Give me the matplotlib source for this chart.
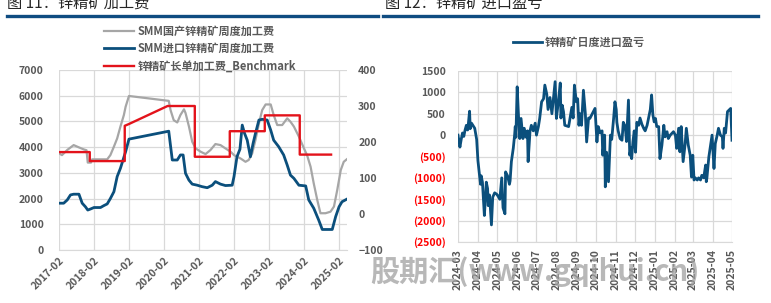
import matplotlib
matplotlib.use('Agg')
import matplotlib.pyplot as plt
import matplotlib.dates as mdates
from matplotlib.lines import Line2D
from matplotlib.ticker import FuncFormatter, MultipleLocator
import pandas as pd

plt.rcParams['font.family'] = ['Noto Sans CJK SC', 'DejaVu Sans']

# ---------------- data: left chart (zinc concentrate TC) ----------------
domestic_dates = [
    '2017-02-01', '2017-03-04', '2017-04-28', '2017-07-04', '2017-08-28', '2017-10-19',
    '2017-11-15', '2017-11-28', '2018-01-01', '2018-01-13', '2018-06-19', '2018-07-22',
    '2018-08-28', '2018-10-01', '2018-11-04', '2018-12-10', '2018-12-28', '2019-02-01',
    '2020-03-22', '2020-04-10', '2020-05-13', '2020-06-19', '2020-07-22', '2020-08-28',
    '2020-09-13', '2020-10-19', '2020-11-22', '2020-12-28', '2021-02-19', '2021-04-10',
    '2021-06-01', '2021-07-22', '2021-09-13', '2021-11-04', '2021-12-28', '2022-02-01',
    '2022-04-10', '2022-06-01', '2022-07-04', '2022-08-10', '2022-09-13', '2022-10-19',
    '2022-11-22', '2022-12-28', '2023-02-19', '2023-03-22', '2023-04-28', '2023-06-19',
    '2023-08-10', '2023-09-13', '2023-10-19', '2023-12-10', '2024-02-01', '2024-03-04',
    '2024-04-10', '2024-05-13', '2024-06-19', '2024-07-22', '2024-09-13', '2024-11-04',
    '2024-12-10', '2025-01-13', '2025-02-19', '2025-03-22', '2025-04-22']
domestic_tc = [
    3760, 3690, 3890, 4080, 3990, 3910,
    3880, 3400, 3400, 3525, 3525, 3690,
    4020, 4340, 4800, 5250, 5570, 5990,
    5800, 5440, 5050, 4960, 5250, 5470,
    5330, 4800, 4210, 3950, 3820, 3730,
    3890, 4120, 4080, 3950, 3820, 3690,
    3560, 3430, 3500, 3760, 4280, 4920,
    5440, 5660, 5660, 5250, 4860, 4860,
    5120, 4990, 4800, 4410, 3950, 3690,
    3240, 2590, 1940, 1430, 1430, 1490,
    1690, 2330, 3110, 3430, 3525]

import_dates = [
    '2017-02-01', '2017-03-22', '2017-04-28', '2017-06-01', '2017-07-04', '2017-08-28',
    '2017-10-01', '2017-11-04', '2017-11-28', '2017-12-28', '2018-02-01', '2018-04-10',
    '2018-05-13', '2018-06-19', '2018-07-22', '2018-08-28', '2018-10-01', '2018-11-04',
    '2018-12-01', '2018-12-28', '2019-02-01', '2020-03-22', '2020-04-28', '2020-06-19',
    '2020-07-22', '2020-08-19', '2020-09-13', '2020-10-19', '2020-11-22', '2021-01-13',
    '2021-03-04', '2021-04-28', '2021-06-19', '2021-07-22', '2021-09-13', '2021-11-04',
    '2022-01-13', '2022-02-01', '2022-03-04', '2022-04-04', '2022-04-28', '2022-05-22',
    '2022-06-19', '2022-07-22', '2022-08-19', '2022-09-13', '2022-10-19', '2022-11-22',
    '2023-01-13', '2023-02-19', '2023-03-22', '2023-05-13', '2023-07-04', '2023-08-10',
    '2023-09-13', '2023-10-19', '2023-12-10', '2024-02-19', '2024-03-22', '2024-05-13',
    '2024-07-04', '2024-08-10', '2024-11-22', '2024-12-28', '2025-02-01', '2025-03-04',
    '2025-04-22']
import_tc = [
    30, 30, 39, 53, 55, 55,
    30, 20, 11, 14, 18, 18,
    23, 28, 43, 62, 104, 127,
    150, 173, 208, 230, 150, 150,
    164, 164, 113, 94, 83, 80,
    76, 73, 80, 90, 83, 79,
    80, 104, 159, 180, 247, 224,
    205, 159, 196, 224, 261, 263,
    261, 233, 205, 187, 164, 136,
    108, 99, 80, 78, 39, 16,
    -17, -43, -43, -7, 20, 34,
    41]

benchmark_dates = [
    '2017-02-01', '2017-12-19', '2017-12-19', '2018-12-19', '2018-12-19', '2019-02-01',
    '2020-03-10', '2020-12-19', '2020-12-19', '2021-12-19', '2021-12-19', '2022-12-19',
    '2022-12-19', '2023-12-19', '2023-12-19', '2024-11-10']
benchmark_tc = [
    172, 172, 147, 147, 245, 250,
    300, 300, 159, 159, 230, 230,
    274, 274, 165, 165]

left_ticks = ['2017-02', '2018-02', '2019-02', '2020-02', '2021-02',
              '2022-02', '2023-02', '2024-02', '2025-02']

# ---------------- data: right chart (daily import profit/loss) ----------------
pl_days = [
    0, 3, 5, 7, 9, 11, 13, 15, 16, 18, 19, 21, 23, 26, 29, 31, 34, 35, 36, 38,
    41, 43, 44, 46, 47, 49, 52, 54, 57, 60, 62, 65, 68, 70, 73, 74, 77, 80, 81, 83,
    86, 88, 89, 90, 92, 94, 96, 98, 101, 103, 106, 108, 109, 112, 114, 117, 120, 122, 125, 127,
    130, 133, 135, 138, 140, 143, 146, 148, 151, 153, 156, 159, 160, 162, 164, 166, 172, 174, 177, 179,
    181, 184, 186, 188, 190, 192, 195, 198, 200, 203, 205, 213, 216, 218, 221, 224, 225, 228, 229, 231,
    234, 237, 239, 242, 244, 246, 247, 249, 252, 255, 257, 260, 262, 265, 267, 269, 270, 272, 274, 276,
    278, 281, 283, 286, 289, 291, 294, 296, 299, 301, 303, 305, 307, 309, 312, 314, 317, 320, 322, 325,
    327, 330, 335, 338, 340, 343, 345, 347, 350, 353, 355, 358, 361, 363, 365, 367, 369, 372, 374, 377,
    379, 382, 385, 386, 387, 390, 392, 395, 398, 400, 403, 405, 408, 411, 412, 414, 416, 419, 424, 426]
pl_values = [
    0, -280, -100, 50, -30, 120, 230, 120, 250, 560, 150, 280, 230, 160, -100, -600, -1000, -1150, -950, -1100,
    -1880, -1400, -1100, -1250, -1650, -1400, -2100, -1450, -1350, -1380, -1420, -1500, -1000, -1700, -1840, -860, -950, -1150, -1070, -620,
    -300, 0, 200, -50, 1130, 470, -80, 390, -80, 160, -50, 100, -620, 100, 230, 100, 280, 0, 200, 390,
    780, 850, 1170, 960, 600, 880, 500, 800, 1250, 390, 780, 1220, 400, 700, 550, 230, 200, 380, 650, 400,
    1170, 780, 850, 230, 500, 230, 1050, 500, -160, 400, 390, 625, -160, 200, 50, 100, -470, 0, -1210, -400,
    -1090, 0, -100, 400, 780, 600, 300, 100, -80, -120, 300, 200, -150, 820, -470, -300, -550, -150, 100, -400,
    300, 230, 400, 250, 150, 100, 230, 380, 600, 940, 470, 310, 390, 200, 200, -550, -240, 230, -40, 80,
    -80, 0, 80, 0, -310, 160, -390, 200, -620, -230, 160, -230, -470, -980, -470, -1050, -1000, -1050, -1000, -1050,
    -940, -1000, -700, -1090, -1000, -510, -310, 0, -780, -200, 0, 160, 0, -40, -310, 160, 50, 550, 625, -120]
right_ticks = ['2024-03', '2024-04', '2024-05', '2024-06', '2024-07', '2024-08', '2024-09',
               '2024-10', '2024-11', '2024-12', '2025-01', '2025-02', '2025-03', '2025-04', '2025-05']

# ---------------- styling ----------------
W, H = 771, 303
GRAY = '#A6A6A6'
BLUE = '#0B4F7C'
RED = '#E3131B'
GRID = '#D9D9D9'
TXT = '#595959'

fig = plt.figure(figsize=(W / 100, H / 100), dpi=100)


def fx(px):
    return px / W


def fy(py):
    return 1 - py / H


# titles and header bars
fig.text(fx(7), fy(3), '图 11：锌精矿加工费', fontsize=11, color='#262626', va='center', ha='left')
fig.text(fx(385), fy(3), '图 12：锌精矿进口盈亏', fontsize=11, color='#262626', va='center', ha='left')
fig.add_artist(Line2D([fx(7), fx(378)], [fy(15.5), fy(15.5)], color='#0F4C81', lw=2.4,
                      transform=fig.transFigure))
fig.add_artist(Line2D([fx(383), fx(758)], [fy(15.5), fy(15.5)], color='#0F4C81', lw=2.4,
                      transform=fig.transFigure))

# ---------------- left chart ----------------
ax1 = fig.add_axes([fx(59), fy(250), fx(347 - 59), (250 - 70) / H])
ax1r = ax1.twinx()

d_dom = pd.to_datetime(domestic_dates)
d_imp = pd.to_datetime(import_dates)
d_ben = pd.to_datetime(benchmark_dates)

l1, = ax1.plot(d_dom, domestic_tc, color=GRAY, lw=1.6, label='SMM国产锌精矿周度加工费')
l2, = ax1r.plot(d_imp, import_tc, color=BLUE, lw=2.0, label='SMM进口锌精矿周度加工费')
l3, = ax1r.plot(d_ben, benchmark_tc, color=RED, lw=1.7, label='锌精矿长单加工费_Benchmark')

ax1.set_ylim(0, 7000)
ax1.yaxis.set_major_locator(MultipleLocator(1000))
ax1r.set_ylim(-100, 400)
ax1r.yaxis.set_major_locator(MultipleLocator(100))
ax1.set_xlim(pd.Timestamp('2017-02-01'), pd.Timestamp('2025-04-25'))
lt = pd.to_datetime(left_ticks)
ax1.set_xticks(lt)
ax1.set_xticklabels(left_ticks, rotation=45, ha='right', va='top', rotation_mode='anchor')
ax1.grid(True, color=GRID, lw=0.9)
ax1.set_axisbelow(True)

for a in (ax1, ax1r):
    for s in a.spines.values():
        s.set_visible(False)
    a.tick_params(length=0, labelsize=7.5, labelcolor=TXT)
ax1.spines['bottom'].set_visible(True)
ax1.spines['bottom'].set_color(GRID)
ax1.tick_params(axis='y', pad=11)
ax1.tick_params(axis='x', pad=4)
ax1r.tick_params(axis='y', pad=8)
for lab in ax1.get_xticklabels() + ax1.get_yticklabels() + ax1r.get_yticklabels():
    lab.set_fontweight('bold')

fig.legend(handles=[l1, l2, l3], loc='upper left', bbox_to_anchor=(fx(104), fy(24.5)),
           frameon=False, labelcolor=TXT, borderpad=0, borderaxespad=0,
           handlelength=2.7, handletextpad=0.3, labelspacing=0.4,
           prop={'weight': 'bold', 'size': 8})

# ---------------- right chart ----------------
ax2 = fig.add_axes([fx(458), fy(242), fx(732 - 458), (242 - 71) / H])
d_pl = pd.Timestamp('2024-03-01') + pd.to_timedelta(pl_days, unit='D')
l4, = ax2.plot(d_pl, pl_values, color=BLUE, lw=2.0, label='锌精矿日度进口盈亏')
ax2.set_ylim(-2500, 1500)
ax2.yaxis.set_major_locator(MultipleLocator(500))
rt = pd.to_datetime(right_ticks)
ax2.set_xlim(rt[0], rt[-1])
ax2.set_xticks(rt)
ax2.set_xticklabels(right_ticks, rotation=90, ha='center', va='top')
ax2.grid(True, color=GRID, lw=0.9)
ax2.set_axisbelow(True)
for s in ax2.spines.values():
    s.set_visible(False)
ax2.spines['bottom'].set_visible(True)
ax2.spines['bottom'].set_color(GRID)
ax2.tick_params(length=0, labelsize=7.5, labelcolor=TXT)
ax2.tick_params(axis='y', pad=9)
ax2.tick_params(axis='x', pad=5)
ax2.yaxis.set_major_formatter(FuncFormatter(lambda v, p: f'({abs(int(v))})' if v < 0 else f'{int(v)}'))
fig.canvas.draw()
for lab in ax2.get_yticklabels():
    lab.set_fontweight('bold')
    if lab.get_text().startswith('('):
        lab.set_color('#FF0000')
for lab in ax2.get_xticklabels():
    lab.set_fontweight('bold')

fig.legend(handles=[l4], loc='center left', bbox_to_anchor=(fx(513), fy(42)),
           frameon=False, borderpad=0, borderaxespad=0, labelcolor=TXT,
           handlelength=2.6, handletextpad=0.3, prop={'weight': 'bold', 'size': 8})

# watermark
fig.text(fx(370), fy(272), '股期汇(www.gqihui.cn)', fontsize=21, fontweight='bold',
         color='#A0A0A0', alpha=0.75, va='center', ha='left', style='italic', zorder=10)

fig.savefig('out.png', dpi=100)
